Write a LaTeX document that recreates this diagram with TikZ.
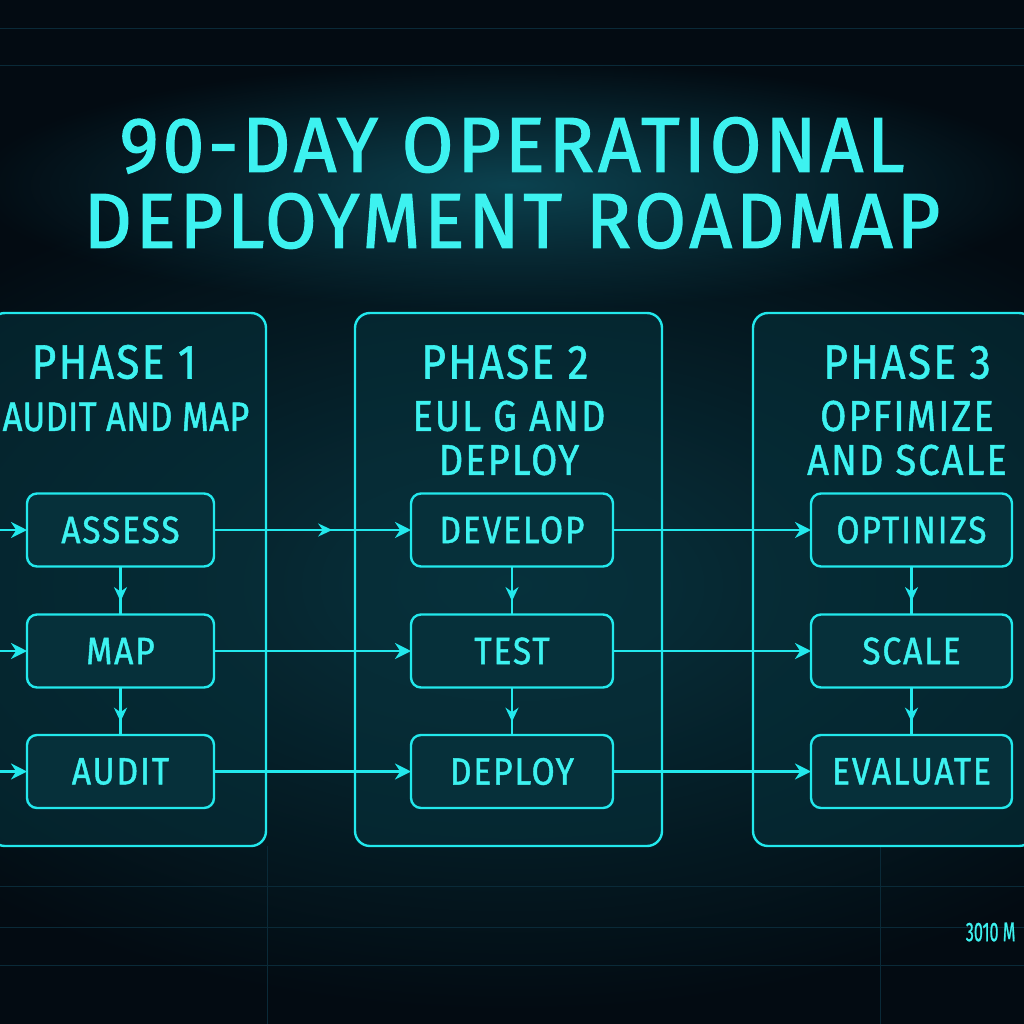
\documentclass[tikz,border=0pt]{standalone}
\usepackage{fontspec}
\newfontfamily\dinfont[FakeStretch=0.88,LetterSpace=5,FakeBold=1.2]{Fira Sans}
\newfontfamily\titlefont[FakeStretch=0.96,LetterSpace=5,FakeBold=1.5]{Fira Sans}
\newfontfamily\tightfont[FakeStretch=0.84,LetterSpace=1,FakeBold=1.2]{Fira Sans}
\newfontfamily\tinyfont[FakeStretch=0.6,FakeBold=0.8]{Fira Sans}
\usetikzlibrary{arrows.meta,positioning,decorations.markings,fadings}
\definecolor{bgdark}{HTML}{030B12}
\definecolor{bgmid}{HTML}{08343F}
\definecolor{glowteal}{HTML}{0D4856}
\definecolor{neon}{HTML}{22E8EC}
\definecolor{neontext}{HTML}{3DF2F0}
\definecolor{boxfill}{HTML}{06303A}
\definecolor{gridline}{HTML}{0A2A38}
\tikzfading[name=glowfade, inner color=transparent!0, outer color=transparent!100]

\tikzset{
  phasebox/.style={draw=neon, line width=2.4pt, rounded corners=15pt,
    fill=boxfill, fill opacity=0.6, minimum height=533pt,
    inner sep=0pt, outer sep=0pt},
  stepbox/.style={draw=neon, line width=2.4pt, rounded corners=10pt,
    fill=boxfill, minimum height=73pt, inner sep=0pt, outer sep=0pt,
    text=neontext, font=\dinfont\fontsize{38}{40}\selectfont},
  phaselabel/.style={text=neontext, font=\dinfont\fontsize{48}{52}\selectfont},
  phasesub/.style={text=neontext, align=center,
    font=\dinfont\fontsize{43}{44}\selectfont},
  flow/.style={draw=neon, line width=2.8pt, -{Stealth[length=16pt,width=16pt]}},
  midtip/.style={decoration={markings,
    mark=at position #1 with {\arrow{Stealth[length=14pt,width=13pt]}}},
    postaction={decorate}},
  midtip/.default=0.6
}

\begin{document}
\begin{tikzpicture}[x=1pt, y=-1pt]
\useasboundingbox (0,0) rectangle (1024,1024);

% background and glow
\fill[bgdark] (0,0) rectangle (1024,1024);
\fill[bgmid, path fading=glowfade] (512,585) ellipse (780 and 430);
\fill[glowteal, opacity=0.9, path fading=glowfade] (512,185) ellipse (540 and 125);
\foreach \gy in {28,65,886,927,965}
  \draw[gridline, line width=0.8pt] (0,\gy) -- (1024,\gy);
\foreach \gx in {267,880}
  \draw[gridline, line width=0.8pt] (\gx,846) -- (\gx,1024);

% title
\path (512,183) node (title) [text=neontext, align=center,
    font=\titlefont\fontsize{78}{76}\selectfont]
    {90-DAY OPERATIONAL\\DEPLOYMENT ROADMAP};

% phase boxes
\path (128,579.5) node (phaseA) [phasebox, minimum width=276pt] {};
\path (508.5,579.5) node (phaseB) [phasebox, minimum width=307pt] {};
\path (893.5,579.5) node (phaseC) [phasebox, minimum width=281pt] {};

\path (114,362) node (phaseAtitle) [phaselabel] {PHASE 1};
\path (126,417) node (phaseAsub) [phasesub, font=\tightfont\fontsize{41}{44}\selectfont]
    {AUDIT AND MAP};
\path (505,362) node (phaseBtitle) [phaselabel] {PHASE 2};
\path (509,438) node (phaseBsub) [phasesub] {EUL G AND\\DEPLOY};
\path (907,362) node (phaseCtitle) [phaselabel] {PHASE 3};
\path (907,438) node (phaseCsub) [phasesub] {OPFIMIZE\\AND SCALE};

% step boxes
\path (120.5,530) node (assess) [stepbox, minimum width=187pt] {ASSESS};
\path (120.5,651) node (map) [stepbox, minimum width=187pt] {MAP};
\path (120.5,771.5) node (audit) [stepbox, minimum width=187pt] {AUDIT};

\path (512,530) node (develop) [stepbox, minimum width=202pt] {DEVELOP};
\path (512,651) node (test) [stepbox, minimum width=202pt] {TEST};
\path (512,771.5) node (deploy) [stepbox, minimum width=202pt] {DEPLOY};

\path (911.5,530) node (optimize) [stepbox, minimum width=201pt] {OPTINIZS};
\path (911.5,651) node (scale) [stepbox, minimum width=201pt] {SCALE};
\path (911.5,771.5) node (evaluate) [stepbox, minimum width=201pt] {EVALUATE};

% incoming arrows
\coordinate (inA) at (-4,530);
\coordinate (inB) at (-4,651);
\coordinate (inC) at (-4,771.5);
\draw[flow] (inA) -- (assess);
\draw[flow] (inB) -- (map);
\draw[flow] (inC) -- (audit);

% down the columns
\draw[draw=neon, line width=2.4pt, midtip=0.72] (assess) -- (map);
\draw[draw=neon, line width=2.4pt, midtip=0.72] (map) -- (audit);
\draw[draw=neon, line width=2.4pt, midtip=0.72] (develop) -- (test);
\draw[draw=neon, line width=2.4pt, midtip=0.72] (test) -- (deploy);
\draw[draw=neon, line width=2.4pt, midtip=0.72] (optimize) -- (scale);
\draw[draw=neon, line width=2.4pt, midtip=0.72] (scale) -- (evaluate);

% across the phases
\draw[flow, midtip=0.6] (assess) -- (develop);
\draw[flow] (map) -- (test);
\draw[flow] (audit) -- (deploy);
\draw[flow] (develop) -- (optimize);
\draw[flow] (test) -- (scale);
\draw[flow] (deploy) -- (evaluate);

% corner mark
\path (1019,932) node (stamp) [anchor=east, text=neontext,
    font=\tinyfont\fontsize{27}{27}\selectfont] {3010 M};
\end{tikzpicture}
\end{document}
